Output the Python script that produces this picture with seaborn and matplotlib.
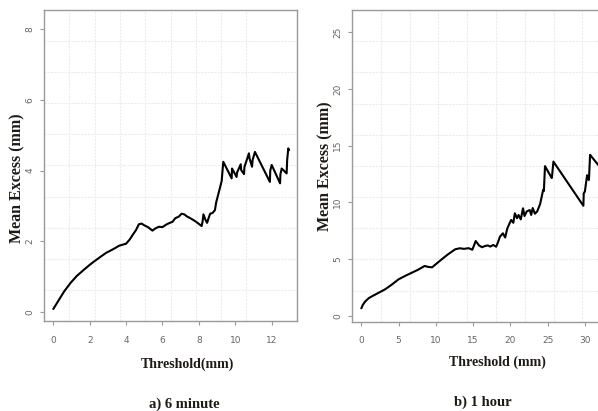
import numpy as np
import pandas as pd
import matplotlib
matplotlib.use('Agg')
import matplotlib.pyplot as plt
import seaborn as sns

# a) 6 minute - mean excess vs threshold (read from the picture)
thr_6min = [0.0, 0.3, 0.6, 0.95, 1.3, 1.7, 2.0, 2.25, 2.6, 2.9, 3.2, 3.45, 3.6, 3.8, 4.0, 4.2,
            4.35, 4.55, 4.7, 4.85, 5.0, 5.2, 5.45, 5.6, 5.8, 6.0, 6.2, 6.4, 6.55, 6.7, 6.9,
            7.05, 7.2, 7.35, 7.5, 7.7, 7.9, 8.15, 8.2, 8.25, 8.35, 8.45, 8.55, 8.62, 8.75,
            8.88, 8.95, 9.05, 9.15, 9.25, 9.34, 9.8, 9.82, 10.07, 10.1, 10.3, 10.32, 10.48,
            10.5, 10.75, 10.78, 10.92, 10.95, 11.08, 11.9, 11.92, 12.0, 12.46, 12.48, 12.55,
            12.82, 12.85, 12.91, 12.95]
me_6min = [0.08, 0.33, 0.58, 0.82, 1.02, 1.2, 1.33, 1.43, 1.56, 1.67, 1.75, 1.82, 1.87, 1.9,
           1.93, 2.05, 2.17, 2.32, 2.48, 2.5, 2.45, 2.4, 2.3, 2.36, 2.41, 2.4, 2.47, 2.52,
           2.55, 2.65, 2.7, 2.78, 2.76, 2.7, 2.66, 2.6, 2.53, 2.43, 2.55, 2.76, 2.62, 2.52,
           2.68, 2.78, 2.8, 2.88, 3.1, 3.3, 3.5, 3.7, 4.25, 3.78, 4.06, 3.82, 3.95, 4.18,
           4.02, 3.9, 4.1, 4.49, 4.35, 4.11, 4.3, 4.53, 3.68, 4.0, 4.16, 3.64, 3.9, 4.06,
           3.92, 4.3, 4.63, 4.58]

# b) 1 hour
thr_1h = [0.0, 0.2, 0.5, 1.0, 1.4, 2.2, 3.2, 4.0, 5.0, 6.0, 6.8, 7.6, 8.5, 9.0, 9.5, 10.1,
          10.8, 11.6, 12.6, 13.2, 13.8, 14.4, 14.9, 15.35, 15.8, 16.2, 16.6, 17.0, 17.3,
          17.7, 18.1, 18.35, 18.6, 19.0, 19.3, 19.6, 20.1, 20.4, 20.6, 20.9, 21.1, 21.4,
          21.7, 21.9, 22.2, 22.6, 22.8, 23.0, 23.3, 23.6, 24.0, 24.4, 24.5, 24.65, 25.55,
          25.58, 25.78, 29.8, 29.85, 30.0, 30.3, 30.5, 30.55, 30.7, 31.8]
me_1h = [0.65, 0.95, 1.24, 1.55, 1.7, 1.98, 2.33, 2.7, 3.21, 3.55, 3.8, 4.05, 4.39, 4.3, 4.27,
         4.6, 4.98, 5.4, 5.86, 5.95, 5.9, 5.96, 5.82, 6.59, 6.2, 6.04, 6.15, 6.2, 6.1, 6.24,
         6.09, 6.5, 6.97, 7.27, 6.9, 7.71, 8.45, 8.2, 9.04, 8.6, 8.89, 8.5, 9.48, 8.8, 9.2,
         9.33, 8.89, 9.5, 9.0, 9.2, 9.86, 11.1, 11.0, 13.2, 12.15, 12.2, 13.6, 9.7, 10.8,
         10.95, 12.4, 11.98, 12.0, 14.2, 13.3]

label_color = '#1e1a16'
tick_color = '#666666'
frame_color = '#9a9a9a'

sns.set_style('white')
plt.rcParams['font.family'] = ['DejaVu Sans']

fig = plt.figure(figsize=(5.98, 4.11), dpi=100)
W, H = 598.0, 411.0

ax1 = fig.add_axes([44 / W, 1 - 321 / H, 253 / W, 311 / H])
ax2 = fig.add_axes([352 / W, 1 - 321.7 / H, 288 / W, 311.7 / H])


def draw_panel(ax, x, y, xlim, ylim, xticks, yticks):
    df = pd.DataFrame({'x': x, 'y': y})
    sns.lineplot(data=df, x='x', y='y', ax=ax, sort=False, estimator=None,
                 color='black', linewidth=1.5)
    ax.set_xlim(*xlim)
    ax.set_ylim(*ylim)
    ax.set_xticks(xticks)
    ax.set_yticks(yticks)
    ax.set_xticklabels([str(t) for t in xticks])
    ax.set_yticklabels([str(t) for t in yticks], rotation=90, va='center')
    # faint R-style grid: 10 cells in each direction
    ax.set_xticks(np.linspace(xlim[0], xlim[1], 11), minor=True)
    ax.set_yticks(np.linspace(ylim[0], ylim[1], 11), minor=True)
    ax.grid(which='minor', color='#ececec', linewidth=0.8, linestyle=(0, (2, 1)))
    ax.grid(which='major', visible=False)
    ax.tick_params(which='minor', length=0)
    ax.tick_params(which='major', direction='out', length=3, width=0.8,
                   color=frame_color, labelsize=6.5, labelcolor=tick_color)
    ax.tick_params(axis='x', which='major', bottom=True, pad=7.5)
    ax.tick_params(axis='y', which='major', left=True, pad=4)
    for s in ax.spines.values():
        s.set_color(frame_color)
        s.set_linewidth(1.0)
    ax.set_xlabel('')
    ax.set_ylabel('')


draw_panel(ax1, thr_6min, me_6min, (-0.51, 13.39), (-0.26, 8.55),
           [0, 2, 4, 6, 8, 10, 12], [0, 2, 4, 6, 8])
draw_panel(ax2, thr_1h, me_1h, (-1.25, 37.4), (-0.53, 26.98),
           [0, 5, 10, 15, 20, 25, 30], [0, 5, 10, 15, 20, 25])

serif = ['Liberation Serif', 'DejaVu Serif']
fig.text(17 / W, 1 - 178 / H, 'Mean Excess (mm)', rotation=90, ha='center', va='center',
         family=serif, weight='bold', size=11.5, color=label_color)
fig.text(325 / W, 1 - 166 / H, 'Mean Excess (mm)', rotation=90, ha='center', va='center',
         family=serif, weight='bold', size=11.5, color=label_color)
fig.text(187.5 / W, 1 - 364 / H, 'Threshold(mm)', ha='center', va='center',
         family=serif, weight='bold', size=10, color=label_color)
fig.text(497.5 / W, 1 - 362 / H, 'Threshold (mm)', ha='center', va='center',
         family=serif, weight='bold', size=10, color=label_color)
fig.text(184 / W, 1 - 404 / H, 'a) 6 minute', ha='center', va='center',
         family=serif, weight='bold', size=10.5, color=label_color)
fig.text(483 / W, 1 - 402 / H, 'b) 1 hour', ha='center', va='center',
         family=serif, weight='bold', size=10.5, color=label_color)

fig.savefig('out.png', dpi=100)
